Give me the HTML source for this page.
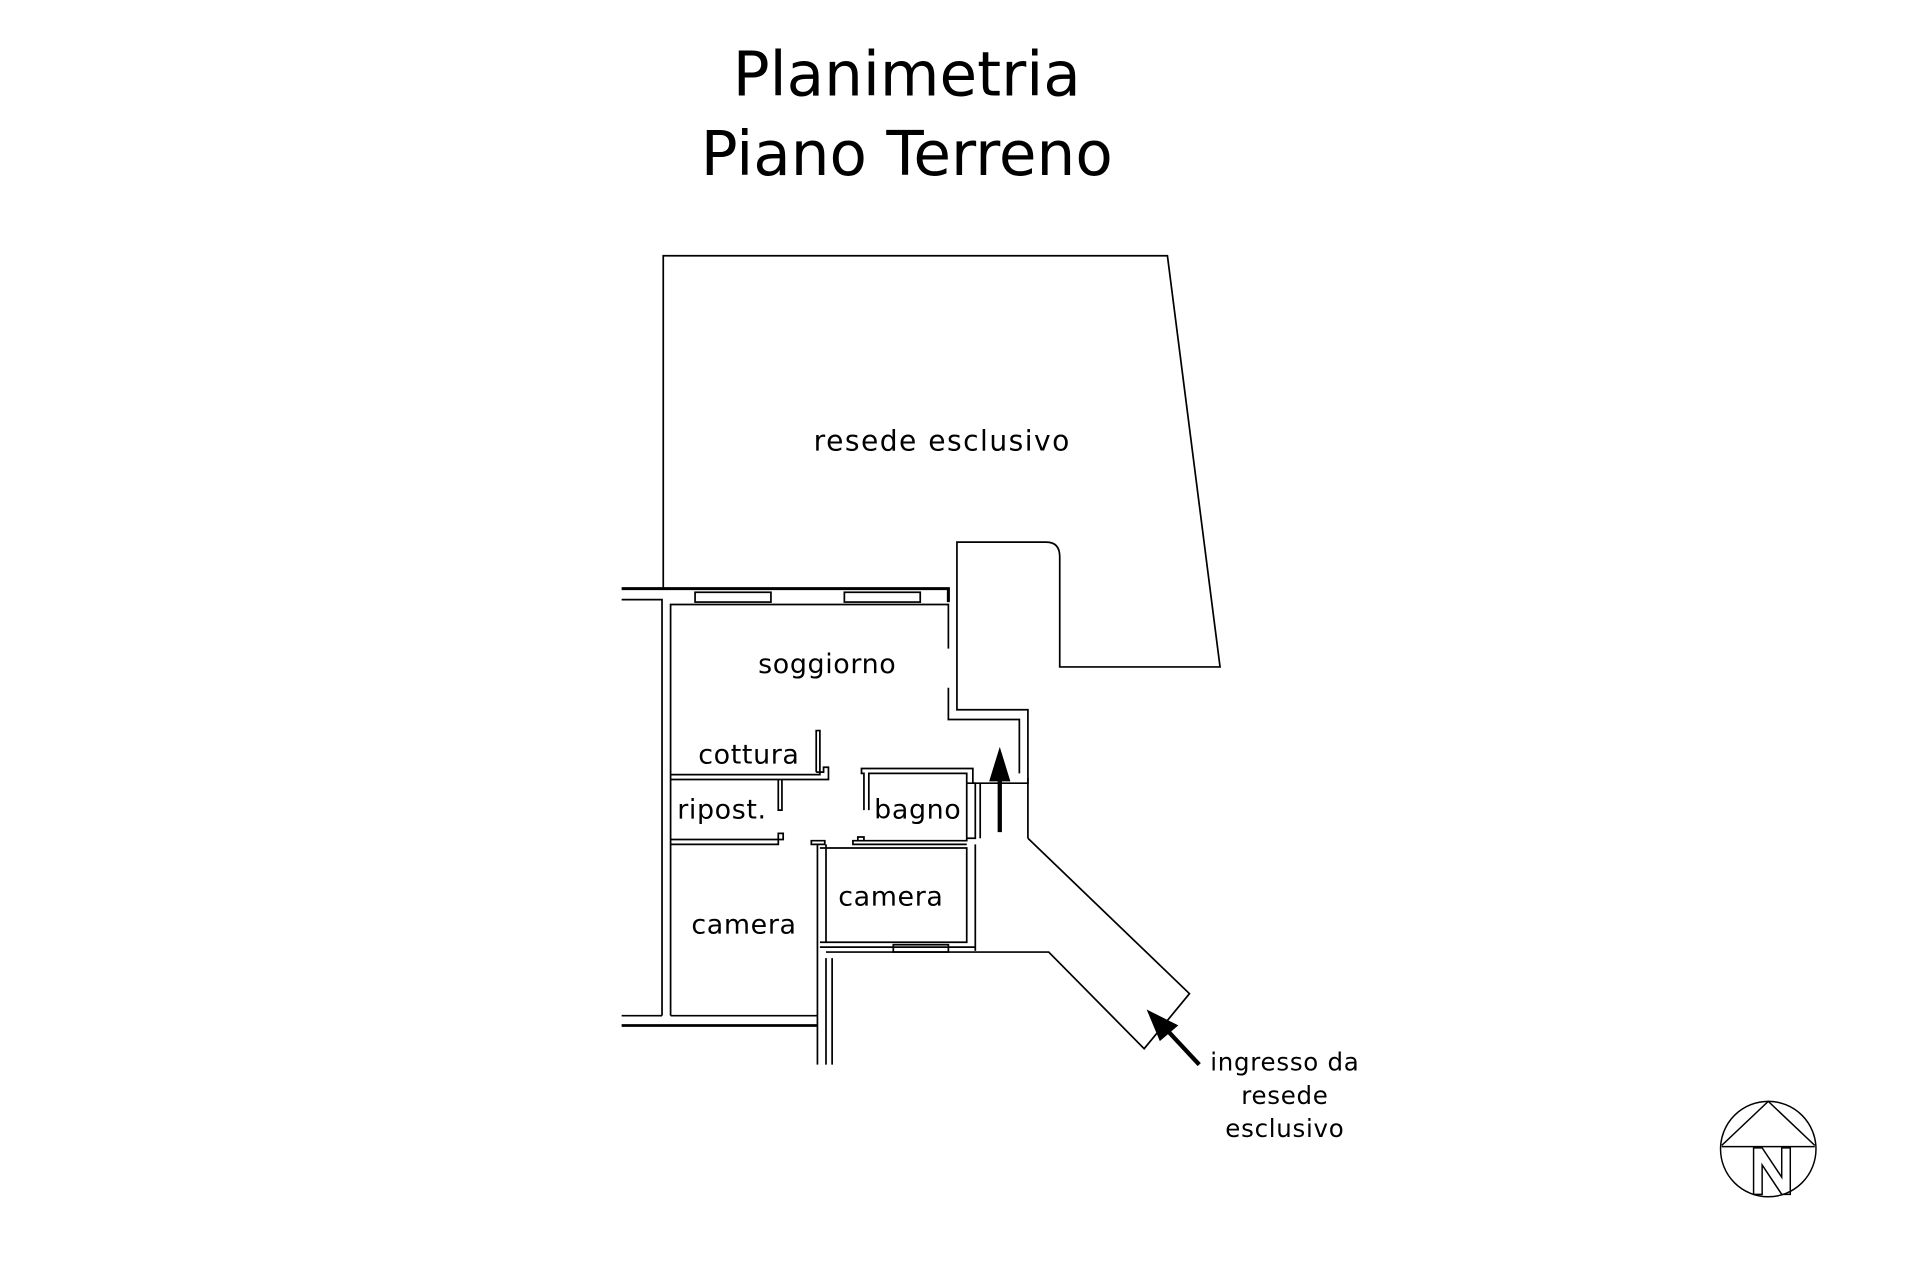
<!DOCTYPE html>
<html><head><meta charset="utf-8"><style>
html,body{margin:0;padding:0;background:#fff;}
svg{display:block}
text{font-family:"DejaVu Sans","Liberation Sans",sans-serif;fill:#000}
</style></head><body>
<svg width="1920" height="1280" viewBox="0 0 1569 1046" xmlns="http://www.w3.org/2000/svg">
<g fill="none" stroke="#000" stroke-width="1.4">
<path d="M542,480 L542,209 L954,209 L997,545 L866,545 L866,455 Q866,443 855,443 L782,443 L782,580 L840,580 L840,685"/>
<path d="M508,481 L775,481 L775,492" stroke-width="2.5"/>
<path d="M508,490 L541,490 L541,830"/>
<path d="M548,830 L548,494 L775,494 L775,530"/>
<path d="M775,562 L775,588 L833,588 L833,632"/>
<rect x="568" y="484" width="62" height="8"/>
<rect x="690" y="484" width="62" height="8"/>
<path d="M548,633 L670,633 L670,597 L667,597 L667,631" />
<path d="M667,631 L673,631 L673,627 L677,627 L677,637 L548,637"/>
<path d="M636,637 L636,662 L639,662 L639,637"/>
<path d="M548,686 L640,686 L640,681 L636,681 L636,690 L548,690"/>
<path d="M663,690 L674,690 L674,687 L663,687 Z"/>
<path d="M668,690 L668,870 M675,690 L675,770"/>
<path d="M675,783 L675,870 M680,783 L680,870"/>
<path d="M706,662 L706,632 L704,632 L704,628 L795,628 L795,640 L840,640 L840,636"/>
<path d="M710,662 L710,632 L790,632 L790,640"/>
<path d="M790,640 L790,687 L697,687 L697,690 L790,690"/>
<path d="M701,687 L701,684 L706,684 L706,687"/>
<path d="M790,640 L797,640 L797,685 L790,685 M801,640 L801,685"/>
<path d="M797,690 L797,777"/>
<path d="M670,693 L790,693 L790,770 L670,770"/>
<path d="M670,774 L797,774"/>
<rect x="730" y="772" width="45" height="6"/>
<path d="M675,778 L857,778 L935,857 L972,812 L840,685"/>
<path d="M548,830 L668,830"/>
<path d="M508,830 L541,830"/>
<path d="M508,838 L668,838" stroke-width="2.2"/>
</g>
<g stroke="#000" stroke-width="3.5" fill="#000">
<line x1="817" y1="680" x2="817" y2="632"/>
<polygon points="817,612 809,638 825,638" stroke-width="1"/>
<line x1="980" y1="870" x2="952" y2="840"/>
<polygon points="938,826 948,850 962,838" stroke-width="1"/>
</g>
<text x="741" y="78" font-size="50" text-anchor="middle">Planimetria</text>
<text x="741" y="143" font-size="50" text-anchor="middle">Piano Terreno</text>
<text x="770" y="368" font-size="23" text-anchor="middle" letter-spacing="1.2">resede esclusivo</text>
<g font-size="22" text-anchor="middle" letter-spacing="0.5">
<text x="676" y="550">soggiorno</text>
<text x="612" y="624">cottura</text>
<text x="590" y="669">ripost.</text>
<text x="750" y="669">bagno</text>
<text x="728" y="740">camera</text>
<text x="608" y="763">camera</text>
</g>
<g font-size="20" text-anchor="middle" letter-spacing="0.6">
<text x="1050" y="875">ingresso da</text>
<text x="1050" y="902">resede</text>
<text x="1050" y="929">esclusivo</text>
</g>
<g fill="none" stroke="#000" stroke-width="1.2">
<circle cx="1445" cy="939" r="39"/>
<path d="M1407,936 L1445,900 L1483,936 M1407,937 L1483,937"/>
<path d="M1433,938 L1433,976 L1440,976 L1440,952 L1456,976 L1463,976 L1463,938 L1456,938 L1456,962 L1440,938 Z"/>
</g>
</svg>
</body></html>
